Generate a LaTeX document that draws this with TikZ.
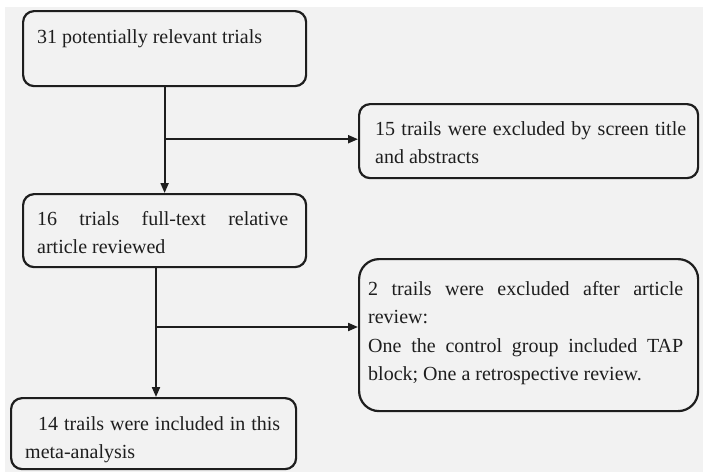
\documentclass[tikz,border=0pt]{standalone}
\usepackage{fontspec}
\setmainfont{Liberation Serif}
\usetikzlibrary{positioning,arrows.meta}
\definecolor{bggray}{HTML}{F2F2F2}
\definecolor{ink}{HTML}{1E1E1E}
\setlength{\parindent}{0pt}
\setlength{\parskip}{0pt}
\tolerance=10000
\hbadness=10000
\hyphenpenalty=10000
\exhyphenpenalty=10000

\begin{document}
\begin{tikzpicture}[x=1pt, y=-1pt,
    box/.style={draw=ink, line width=2.2pt, rounded corners=11pt, fill=bggray,
      anchor=north west, inner sep=0pt},
    txt/.style={text=ink, inner sep=0pt, align=justify,
      font=\fontsize{20}{28.5}\selectfont},
    flow/.style={draw=ink, line width=2pt, -{Triangle[length=10pt,width=8pt]}}]
  \fill[white] (0,0) rectangle (703,472);
  \fill[bggray] (5,7) rectangle (703,472);
  \useasboundingbox (0,0) rectangle (703,472);

  % boxes down the left
  \node[box, minimum width=283pt, minimum height=75pt] (found) at (22,10) {};
  \node[box, minimum width=283pt, minimum height=73pt] (screened) at (22,193) {};
  \node[box, minimum width=285pt, minimum height=71pt] (included) at (10,397) {};
  % exclusions on the right
  \node[box, minimum width=339pt, minimum height=74pt] (exclA) at (358,103) {};
  \node[box, minimum width=339pt, minimum height=152pt, rounded corners=20pt] (exclB) at (358,258) {};

  \node[txt, text width=251pt, below right=13pt and 15pt of found.north west] (foundtxt)
    {\strut 31 potentially relevant trials};
  \node[txt, text width=251pt, below right=12pt and 15pt of screened.north west] (screenedtxt)
    {\strut 16 trials full-text relative\linebreak article reviewed};
  \node[txt, text width=255pt, below right=13pt and 15pt of included.north west] (includedtxt)
    {\strut\hspace*{13pt}14 trails were included in this meta-analysis};
  \node[txt, text width=311pt, below right=12pt and 17pt of exclA.north west] (exclAtxt)
    {\strut 15 trails were excluded by screen title and abstracts};
  \node[txt, text width=315pt, below right=17pt and 10pt of exclB.north west] (exclBtxt)
    {\strut 2 trails were excluded after article review:\par
     One the control group included TAP block; One a retrospective review.};

  % arrows
  \path (found.south) ++(0,52) coordinate (forkA);
  \coordinate (forkB) at (156,327);
  \draw[flow] (found) -- (screened);
  \draw[flow] (forkA) -- (forkA -| exclA.west);
  \draw[flow] (screened.south -| forkB) -- (included.north -| forkB);
  \draw[flow] (forkB) -- (forkB -| exclB.west);
\end{tikzpicture}
\end{document}
